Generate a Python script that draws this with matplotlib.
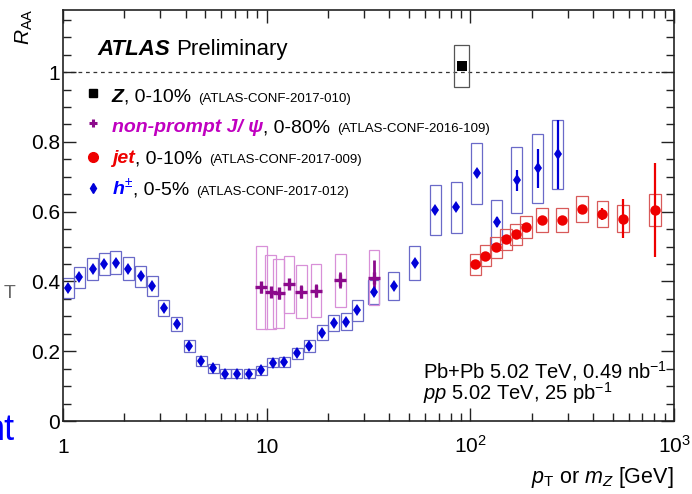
import matplotlib
matplotlib.use('Agg')
import matplotlib.pyplot as plt
from matplotlib.patches import Rectangle
from matplotlib import transforms as mtransforms
from matplotlib.ticker import FixedLocator, LogLocator, MultipleLocator, NullFormatter

plt.rcParams['font.family'] = ['Liberation Sans', 'DejaVu Sans']
plt.rcParams['mathtext.fontset'] = 'custom'
plt.rcParams['mathtext.rm'] = 'Liberation Sans'
plt.rcParams['mathtext.it'] = 'Liberation Sans:italic'
plt.rcParams['mathtext.bf'] = 'Liberation Sans:bold'
plt.rcParams['mathtext.bfit'] = 'Liberation Sans:italic:bold'

# charged hadrons h+-, 0-5%
h_pt = [1.06, 1.20, 1.40, 1.59, 1.82, 2.09, 2.41, 2.74, 3.13, 3.62, 4.16, 4.76,
        5.48, 6.27, 7.13, 8.19, 9.42, 10.7, 12.2, 14.1, 16.2, 18.7, 21.4, 24.6,
        27.9, 33.6, 42.1, 53.3, 67.1, 85.1, 107.5, 134.5, 169.2, 213.8, 269.0]
h_raa = [0.382, 0.412, 0.435, 0.450, 0.454, 0.437, 0.415, 0.387, 0.324, 0.278, 0.215, 0.173,
         0.151, 0.136, 0.136, 0.136, 0.145, 0.167, 0.170, 0.194, 0.215, 0.253, 0.281, 0.285,
         0.317, 0.369, 0.387, 0.453, 0.605, 0.612, 0.710, 0.571, 0.690, 0.724, 0.764]
h_sys = [0.029, 0.030, 0.032, 0.032, 0.033, 0.032, 0.030, 0.028, 0.024, 0.021, 0.017, 0.014,
         0.013, 0.012, 0.012, 0.012, 0.012, 0.013, 0.014, 0.016, 0.018, 0.021, 0.023, 0.024,
         0.031, 0.035, 0.039, 0.048, 0.072, 0.074, 0.087, 0.063, 0.094, 0.099, 0.100]
h_stat = [0.003, 0.003, 0.003, 0.003, 0.003, 0.003, 0.003, 0.003, 0.003, 0.003, 0.003, 0.003,
          0.003, 0.003, 0.003, 0.003, 0.003, 0.003, 0.003, 0.003, 0.003, 0.003, 0.003, 0.004,
          0.004, 0.005, 0.006, 0.006, 0.008, 0.009, 0.012, 0.015, 0.030, 0.057, 0.100]

# non-prompt J/psi, 0-80%
jp_pt = [9.42, 10.46, 11.45, 12.86, 14.8, 17.5, 23.0, 33.6]
jp_raa = [0.383, 0.370, 0.366, 0.392, 0.371, 0.374, 0.404, 0.411]
jp_sys = [0.118, 0.106, 0.099, 0.082, 0.076, 0.076, 0.076, 0.078]
jp_stat = [0.015, 0.015, 0.015, 0.015, 0.018, 0.018, 0.022, 0.050]

# jets, 0-10%
j_pt = [105.8, 118.5, 133.6, 149.6, 167.5, 187.6, 224.5, 281.6, 353.3, 445.5, 562.0, 807.0]
j_raa = [0.449, 0.474, 0.498, 0.521, 0.535, 0.556, 0.576, 0.576, 0.607, 0.593, 0.580, 0.605]
j_sys = [0.030, 0.030, 0.030, 0.030, 0.031, 0.032, 0.034, 0.034, 0.037, 0.038, 0.038, 0.046]
j_stat = [0.005, 0.005, 0.005, 0.005, 0.006, 0.006, 0.008, 0.010, 0.012, 0.017, 0.056, 0.134]

# Z boson, 0-10%
z_m = [90.6]
z_raa = [1.018]
z_sys = [0.061]
z_stat = [0.010]

xtick_vals = [1, 10, 100, 1000]
xtick_labels = ['1', '10', r'$10^{2}$', r'$10^{3}$']
ytick_vals = [0, 0.2, 0.4, 0.6, 0.8, 1.0]
ytick_labels = ['0', '0.2', '0.4', '0.6', '0.8', '1']


def sys_boxes(ax, x, y, s, halfw, color):
    for xi, yi, si in zip(x, y, s):
        lo, hi = xi * 10 ** (-halfw), xi * 10 ** halfw
        ax.add_patch(Rectangle((lo, yi - si), hi - lo, 2 * si, fill=False,
                               ec=color, lw=0.9, zorder=2))


fig = plt.figure(figsize=(6.92, 4.94), dpi=100)
ax = fig.add_axes([63 / 692, 1 - 421 / 494, 611 / 692, 411 / 494])

ax.axhline(1.0, color='#333333', lw=0.9, ls=(0, (3, 3)), zorder=1)

sys_boxes(ax, h_pt, h_raa, h_sys, 0.027, '#6a6ac8')
sys_boxes(ax, jp_pt, jp_raa, jp_sys, 0.026, '#d890d8')
sys_boxes(ax, j_pt, j_raa, j_sys, 0.028, '#d85a5a')
sys_boxes(ax, z_m, z_raa, z_sys, 0.038, '#555555')

ax.errorbar(h_pt, h_raa, yerr=h_stat, fmt='d', color='#0000d8', ms=6, mew=0,
            elinewidth=1.6, capsize=0, zorder=4)
ax.errorbar(jp_pt, jp_raa, yerr=jp_stat, fmt='+', color='#8b0a8b', ms=9, mew=2.4,
            elinewidth=2.0, capsize=0, zorder=4)
ax.errorbar(j_pt, j_raa, yerr=j_stat, fmt='o', color='#ee0000', ms=7.5, mew=0,
            elinewidth=1.6, capsize=0, zorder=4)
ax.errorbar(z_m, z_raa, yerr=z_stat, fmt='s', color='black', ms=6.5, mew=0,
            elinewidth=1.4, capsize=0, zorder=4)

ax.set_xscale('log')
ax.set_xlim(1, 1000)
ax.set_ylim(0, 1.178)
ax.xaxis.set_major_locator(FixedLocator(xtick_vals))
ax.xaxis.set_minor_locator(LogLocator(base=10, subs=[2, 3, 4, 5, 6, 7, 8, 9]))
ax.xaxis.set_minor_formatter(NullFormatter())
ax.set_yticks(ytick_vals)
ax.set_yticklabels(ytick_labels)
ax.yaxis.set_minor_locator(MultipleLocator(0.05))
ax.tick_params(which='both', direction='in', top=True, right=True, width=1.0, color='#222222')
ax.tick_params(which='major', length=9.5)
ax.tick_params(which='minor', length=5.5)
ax.tick_params(axis='y', labelsize=15, pad=2)
ax.tick_params(axis='x', labelbottom=False)
for sp in ax.spines.values():
    sp.set_linewidth(1.2)
    sp.set_color('#222222')

# x tick labels sit on a common baseline
xlab_tr = mtransforms.blended_transform_factory(ax.transData, ax.transAxes)
for v, lab in zip(xtick_vals, xtick_labels):
    ax.text(v, -0.078, lab, transform=xlab_tr, ha='center', va='baseline',
            fontsize=15, clip_on=False)

ax.text(1.0, -0.151, r'$p_{\mathrm{T}}$ or $m_{Z}$ [GeV]', transform=ax.transAxes,
        ha='right', va='baseline', fontsize=15.5)
fig.text(24 / 692, 1 - 8 / 494, r'$R_{\mathrm{AA}}$', rotation=90, ha='center', va='top',
         fontsize=15)

renderer = fig.canvas.get_renderer()


def text_chain(x0, ybase, pieces):
    dx = 0.0
    for s, gap, kw in pieces:
        dx += gap
        tr = mtransforms.offset_copy(ax.transAxes, fig=fig, x=dx, y=0, units='dots')
        t = ax.text(x0, ybase, s, transform=tr, ha='left', va='baseline', **kw)
        dx += t.get_window_extent(renderer).width


bi = dict(fontweight='bold', fontstyle='italic', fontsize=14)
reg = dict(fontsize=14, color='black')
small = dict(fontsize=9.5, color='black')

text_chain(0.057, 0.890, [('ATLAS', 0, dict(fontweight='bold', fontstyle='italic', fontsize=16)),
                          ('Preliminary', 6, dict(fontsize=16))])

legend_rows = [
    (0.797, 0.777, dict(marker='s', color='black', ms=5.5),
     [('Z', 0, dict(bi, color='black')), (', 0-10%', 0, reg),
      ('(ATLAS-CONF-2017-010)', 7, small)]),
    (0.725, 0.702, dict(marker='+', color='#8b0a8b', ms=6, mew=2.2),
     [('non-prompt J/ ψ', 0, dict(bi, color='#c000c0')), (', 0-80%', 0, reg),
      ('(ATLAS-CONF-2016-109)', 7, small)]),
    (0.643, 0.627, dict(marker='o', color='#ee0000', ms=7),
     [('jet', 0, dict(bi, color='#ee0000')), (', 0-10%', 0, reg),
      ('(ATLAS-CONF-2017-009)', 7, small)]),
    (0.567, 0.551, dict(marker='d', color='#0000d8', ms=5.5),
     [(r'$\mathbfit{h}^{\pm}$', 0, dict(fontsize=14, color='#0000ff')), (', 0-5%', 0, reg),
      ('(ATLAS-CONF-2017-012)', 7, small)]),
]
for ym, yb, mk, pieces in legend_rows:
    ax.plot([0.049], [ym], transform=ax.transAxes, ls='none', clip_on=False, **mk)
    text_chain(0.080, yb, pieces)

ax.text(0.589, 0.105, r'Pb+Pb 5.02 TeV, 0.49 nb$^{\mathregular{-1}}$', transform=ax.transAxes,
        ha='left', va='baseline', fontsize=14.5)
ax.text(0.589, 0.051, r'$pp$ 5.02 TeV, 25 pb$^{\mathregular{-1}}$', transform=ax.transAxes,
        ha='left', va='baseline', fontsize=14.5)

# fragments of neighbouring slide text at the left edge
fig.text(15 / 692, 1 - 298 / 494, 'T', ha='right', va='baseline', fontsize=14, color='#666666')
fig.text(15 / 692, 1 - 440 / 494, 'nt', ha='right', va='baseline', fontsize=26, color='#0000ff')

fig.savefig('out.png', dpi=100)
